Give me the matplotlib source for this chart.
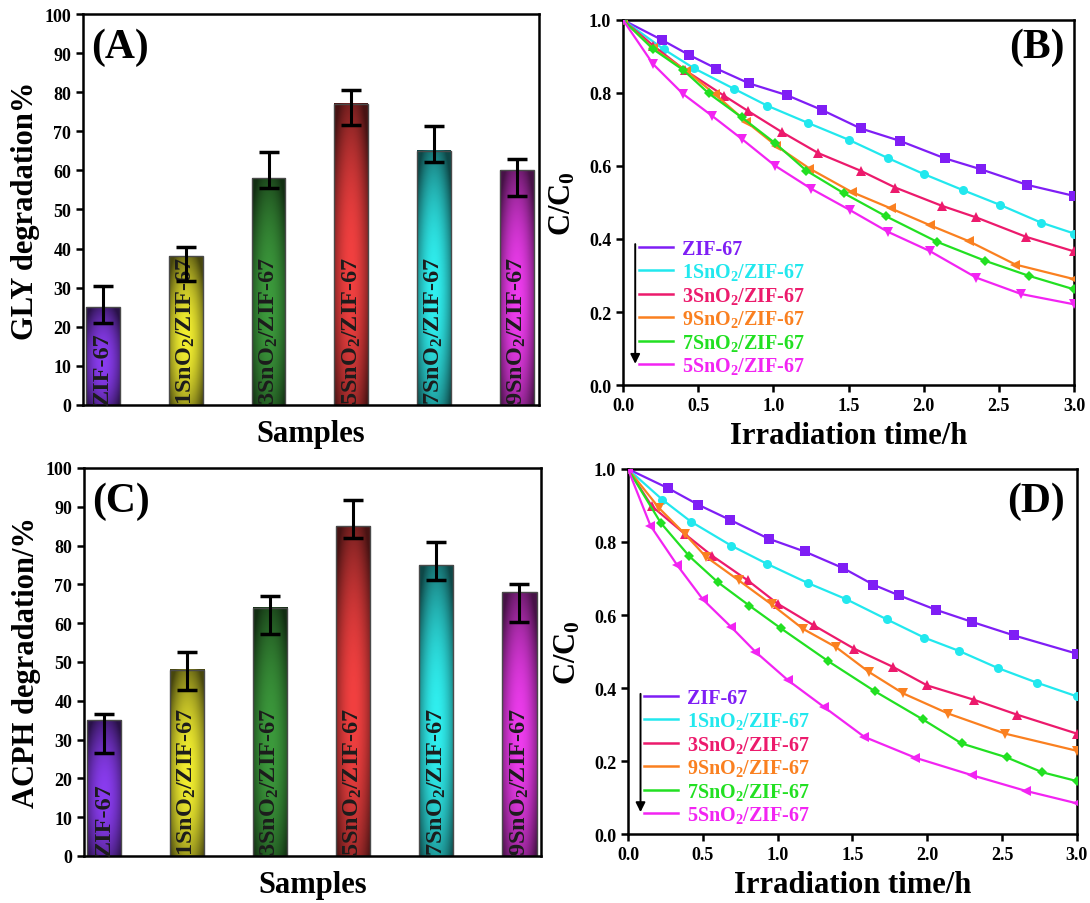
import numpy as np
import matplotlib.pyplot as plt
from matplotlib.colors import to_rgb
from matplotlib.lines import Line2D

plt.rcParams['font.family'] = ['Liberation Serif', 'DejaVu Serif']
plt.rcParams['font.weight'] = 'bold'
plt.rcParams['axes.labelweight'] = 'bold'
plt.rcParams['mathtext.fontset'] = 'custom'
plt.rcParams['mathtext.rm'] = 'Liberation Serif:bold'
plt.rcParams['mathtext.it'] = 'Liberation Serif:bold'
plt.rcParams['mathtext.bf'] = 'Liberation Serif:bold'

# bar panels (A) and (C)
samples = ['ZIF-67', '1SnO$_2$/ZIF-67', '3SnO$_2$/ZIF-67',
           '5SnO$_2$/ZIF-67', '7SnO$_2$/ZIF-67', '9SnO$_2$/ZIF-67']
bar_colors = ['#8a3cf0', '#f2ee30', '#3c9a3c', '#f24040', '#30f0f0', '#ee3cee']

gly = [25.0, 38.0, 58.0, 77.0, 65.0, 60.0]
gly_hi = [30.4, 40.5, 64.8, 80.6, 71.3, 62.8]
gly_lo = [21.0, 31.7, 55.5, 71.5, 62.2, 53.5]

acph = [35.0, 48.0, 64.0, 85.0, 75.0, 68.0]
acph_hi = [36.5, 52.5, 66.9, 91.8, 80.9, 70.1]
acph_lo = [26.6, 42.9, 57.1, 82.0, 71.2, 60.3]

# kinetics panels (B) and (D), legend order
series = ['ZIF-67', '1SnO$_2$/ZIF-67', '3SnO$_2$/ZIF-67',
          '9SnO$_2$/ZIF-67', '7SnO$_2$/ZIF-67', '5SnO$_2$/ZIF-67']
line_colors = ['#7f1ef5', '#22e8ee', '#ec1a6c', '#fa8020', '#22e022', '#f224f2']
markers_b = ['s', 'o', '^', '<', 'D', 'v']
markers_d = ['s', 'o', '^', 'v', 'D', '<']

b_t = [
    [0, 0.26, 0.44, 0.62, 0.84, 1.09, 1.32, 1.58, 1.84, 2.14, 2.38, 2.69, 3.0],
    [0, 0.27, 0.47, 0.74, 0.96, 1.23, 1.50, 1.76, 2.00, 2.26, 2.51, 2.78, 3.0],
    [0, 0.20, 0.41, 0.67, 0.83, 1.06, 1.30, 1.58, 1.81, 2.12, 2.35, 2.68, 3.0],
    [0, 0.20, 0.42, 0.61, 0.82, 1.02, 1.24, 1.52, 1.78, 2.04, 2.30, 2.61, 3.0],
    [0, 0.20, 0.40, 0.57, 0.79, 1.01, 1.22, 1.47, 1.75, 2.09, 2.41, 2.70, 3.0],
    [0, 0.20, 0.40, 0.59, 0.79, 1.01, 1.25, 1.51, 1.76, 2.04, 2.35, 2.65, 3.0],
]
b_c = [
    [1.0, 0.945, 0.904, 0.867, 0.826, 0.794, 0.754, 0.703, 0.669, 0.621, 0.591, 0.548, 0.518],
    [1.0, 0.920, 0.868, 0.811, 0.765, 0.718, 0.672, 0.622, 0.578, 0.534, 0.493, 0.445, 0.415],
    [1.0, 0.930, 0.863, 0.793, 0.751, 0.692, 0.635, 0.587, 0.541, 0.491, 0.459, 0.406, 0.366],
    [1.0, 0.922, 0.861, 0.797, 0.721, 0.655, 0.593, 0.529, 0.484, 0.438, 0.394, 0.330, 0.290],
    [1.0, 0.920, 0.863, 0.799, 0.733, 0.663, 0.587, 0.525, 0.462, 0.392, 0.340, 0.299, 0.262],
    [1.0, 0.879, 0.797, 0.738, 0.674, 0.601, 0.538, 0.479, 0.420, 0.367, 0.294, 0.249, 0.221],
]

d_t = [
    [0, 0.27, 0.47, 0.68, 0.94, 1.18, 1.44, 1.64, 1.81, 2.06, 2.30, 2.58, 3.0],
    [0, 0.23, 0.42, 0.69, 0.93, 1.20, 1.46, 1.73, 1.98, 2.21, 2.47, 2.73, 3.0],
    [0, 0.16, 0.38, 0.56, 0.80, 1.00, 1.24, 1.51, 1.77, 2.00, 2.31, 2.60, 3.0],
    [0, 0.21, 0.38, 0.52, 0.74, 0.96, 1.17, 1.39, 1.61, 1.84, 2.14, 2.52, 3.0],
    [0, 0.22, 0.41, 0.60, 0.81, 1.02, 1.34, 1.65, 1.97, 2.23, 2.53, 2.77, 3.0],
    [0, 0.15, 0.33, 0.50, 0.69, 0.85, 1.07, 1.31, 1.58, 1.92, 2.30, 2.66, 3.0],
]
d_c = [
    [1.0, 0.947, 0.902, 0.861, 0.809, 0.774, 0.728, 0.683, 0.654, 0.614, 0.581, 0.544, 0.494],
    [1.0, 0.916, 0.856, 0.790, 0.740, 0.688, 0.643, 0.588, 0.538, 0.502, 0.455, 0.415, 0.377],
    [1.0, 0.898, 0.822, 0.763, 0.695, 0.631, 0.572, 0.508, 0.458, 0.407, 0.368, 0.327, 0.275],
    [1.0, 0.892, 0.822, 0.760, 0.695, 0.629, 0.562, 0.512, 0.444, 0.385, 0.330, 0.275, 0.228],
    [1.0, 0.852, 0.761, 0.690, 0.626, 0.564, 0.473, 0.391, 0.314, 0.248, 0.210, 0.169, 0.145],
    [1.0, 0.845, 0.736, 0.643, 0.567, 0.500, 0.421, 0.348, 0.266, 0.209, 0.161, 0.118, 0.084],
]


def style_axes(ax):
    for sp in ax.spines.values():
        sp.set_linewidth(1.8)
    ax.tick_params(direction='out', length=5, width=1.8, labelsize=13)


def bar_panel(ax, vals, hi, lo, ylabel, tag):
    x = np.arange(len(vals))
    w = 0.41
    u = np.linspace(-1, 1, 60)
    for i, v in enumerate(vals):
        vv = np.linspace(0, 1, 120)
        U, V = np.meshgrid(u, vv)
        shade = 1 - 0.4 * U**2 - 0.5 * ((V - 0.45) / 0.55)**2
        shade = np.clip(shade, 0.3, 1)
        img = np.array(to_rgb(bar_colors[i]))[None, None, :] * shade[:, :, None]
        ax.imshow(img, extent=(x[i] - w/2, x[i] + w/2, 0, v), origin='lower',
                  aspect='auto', interpolation='bilinear', zorder=1)
    ax.bar(x, vals, width=w, facecolor='none', edgecolor='#4a4a4a', linewidth=1.0, zorder=2)
    err = [np.array(vals) - np.array(lo), np.array(hi) - np.array(vals)]
    ax.errorbar(x, vals, yerr=err, fmt='none', ecolor='black', elinewidth=2.2,
                capsize=7, capthick=2.5, zorder=4)
    for i in range(len(vals)):
        ax.text(x[i], 0.3, samples[i], rotation=90, ha='center', va='bottom',
                fontsize=17.5, color='#1c1c1c', zorder=3)
    ax.set_xlim(-0.24, 5.26)
    ax.set_ylim(0, 100)
    ax.set_yticks(np.arange(0, 101, 10))
    style_axes(ax)
    ax.tick_params(axis='x', length=0, labelbottom=False)
    ax.set_ylabel(ylabel, fontsize=22, labelpad=3)
    ax.set_xlabel('Samples', fontsize=22, labelpad=10)
    ax.text(0.018, 0.915, tag, transform=ax.transAxes, fontsize=30,
            ha='left', va='center')


def kin_panel(ax, ts, cs, markers, tag, tag_xy, leg_top, arrow_x, arrow_y):
    for i in range(len(series)):
        ax.plot(ts[i], cs[i], color=line_colors[i], lw=1.6, marker=markers[i],
                markersize=6.5 if markers[i] != 'D' else 5.5,
                markeredgewidth=0, zorder=3)
    ax.set_xlim(0, 3)
    ax.set_ylim(0, 1)
    ax.set_xticks(np.arange(0, 3.01, 0.5))
    ax.set_yticks(np.arange(0, 1.01, 0.2))
    ax.xaxis.set_major_formatter('{x:.1f}')
    ax.yaxis.set_major_formatter('{x:.1f}')
    style_axes(ax)
    ax.set_xlabel('Irradiation time/h', fontsize=22, labelpad=5)
    ax.set_ylabel('C/C$_0$', fontsize=22, labelpad=8)
    ax.text(tag_xy[0], tag_xy[1], tag, transform=ax.transAxes, fontsize=30,
            ha='right', va='center')
    handles = [Line2D([], [], color=c, lw=1.8) for c in line_colors]
    ax.legend(handles, series, loc='upper left', bbox_to_anchor=(0.035, leg_top),
              frameon=False, fontsize=14.5, labelcolor=line_colors, handlelength=1.7,
              handletextpad=0.45, labelspacing=0.12, borderpad=0, borderaxespad=0)
    ax.annotate('', xy=(arrow_x, arrow_y[1]), xytext=(arrow_x, arrow_y[0]),
                xycoords='axes fraction',
                arrowprops=dict(arrowstyle='-|>', color='black', lw=1.4,
                                mutation_scale=14, shrinkA=0, shrinkB=0))


fig = plt.figure(figsize=(10.9, 9.04), dpi=100)
axA = fig.add_axes([0.0761, 0.5509, 0.4180, 0.4325])
axB = fig.add_axes([0.5716, 0.5730, 0.4138, 0.4038])
axC = fig.add_axes([0.0771, 0.0520, 0.4193, 0.4292])
axD = fig.add_axes([0.5761, 0.0763, 0.4119, 0.4038])

bar_panel(axA, gly, gly_hi, gly_lo, 'GLY degradation%', '(A)')
bar_panel(axC, acph, acph_hi, acph_lo, 'ACPH degradation/%', '(C)')
kin_panel(axB, b_t, b_c, markers_b, '(B)', (0.98, 0.926), 0.40, 0.027, (0.386, 0.058))
kin_panel(axD, d_t, d_c, markers_d, '(D)', (0.974, 0.912), 0.40, 0.028, (0.384, 0.060))

fig.savefig('out.png', dpi=100)
